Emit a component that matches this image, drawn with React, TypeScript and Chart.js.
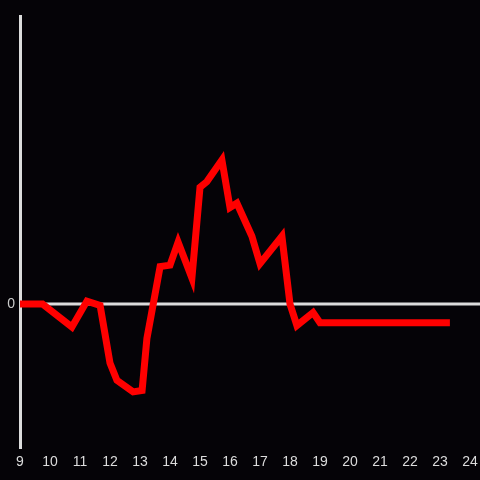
import React, { useEffect, useRef } from "react";
import { Chart, registerables } from "chart.js";

Chart.register(...registerables);

const hours = [9, 9.75, 10.73, 11.23, 11.67, 12.0, 12.23, 12.77, 13.07, 13.23, 13.67, 14.0, 14.27, 14.73, 15.0, 15.23, 15.73, 16.0, 16.23, 16.73, 17.0, 17.73, 18.0, 18.23, 18.77, 19.0, 23.33];
const values = [0, 0, -0.16, 0.02, -0.01, -0.41, -0.53, -0.61, -0.6, -0.24, 0.26, 0.27, 0.43, 0.18, 0.81, 0.85, 1.0, 0.67, 0.7, 0.47, 0.28, 0.47, 0.0, -0.15, -0.06, -0.13, -0.13];
const xTicks = [9, 10, 11, 12, 13, 14, 15, 16, 17, 18, 19, 20, 21, 22, 23, 24];
const yTicks = [0];

const BG = "#050307";
const AXIS = "#dcdcdc";

export default function App() {
  const ref = useRef<HTMLCanvasElement | null>(null);
  useEffect(() => {
    document.body.style.margin = "0";
    document.body.style.background = BG;
    const canvas = ref.current!;
    const bgPlugin = {
      id: "bg",
      beforeDraw(chart: any) {
        const c = chart.ctx;
        c.save();
        c.fillStyle = BG;
        c.fillRect(0, 0, chart.width, chart.height);
        c.restore();
      },
      beforeDatasetsDraw(chart: any) {
        const c = chart.ctx;
        const y = Math.round(chart.scales.y.getPixelForValue(0));
        c.save();
        c.strokeStyle = AXIS;
        c.lineWidth = 3;
        c.beginPath();
        c.moveTo(chart.chartArea.left, y);
        c.lineTo(chart.width, y);
        c.stroke();
        c.restore();
      },
    };
    const chart = new Chart(canvas, {
      type: "line",
      data: {
        datasets: [
          {
            data: hours.map((h, i) => ({ x: h, y: values[i] })),
            borderColor: "#ff0000",
            borderWidth: 7,
            pointRadius: 0,
            tension: 0,
            fill: false,
          },
        ],
      },
      options: {
        responsive: false,
        animation: false,
        layout: { padding: { left: 0, top: 16, right: 10, bottom: 0 } },
        plugins: { legend: { display: false }, tooltip: { enabled: false } },
        scales: {
          x: {
            type: "linear",
            min: 9,
            max: 24,
            grid: { display: false, drawTicks: true, tickLength: 4 },
            border: { display: false },
            afterBuildTicks: (s: any) => {
              s.ticks = xTicks.map((v) => ({ value: v }));
            },
            afterFit: (s: any) => {
              s.height = 32;
            },
            ticks: {
              color: AXIS,
              font: { size: 14, family: "'Liberation Sans', Arial, sans-serif" },
              padding: 2,
              maxRotation: 0,
              autoSkip: false,
            },
          },
          y: {
            min: -1,
            max: 2,
            grid: { display: false, drawTicks: false },
            border: { display: true, color: AXIS, width: 3 },
            afterBuildTicks: (s: any) => {
              s.ticks = yTicks.map((v) => ({ value: v }));
            },
            afterFit: (s: any) => {
              s.width = 20;
            },
            ticks: {
              color: "#cccccc",
              font: { size: 14, family: "'Liberation Sans', Arial, sans-serif" },
              padding: 5,
            },
          },
        },
      },
      plugins: [bgPlugin],
    });
    return () => chart.destroy();
  }, []);
  return <canvas ref={ref} width={480} height={480} style={{ display: "block" }} />;
}
